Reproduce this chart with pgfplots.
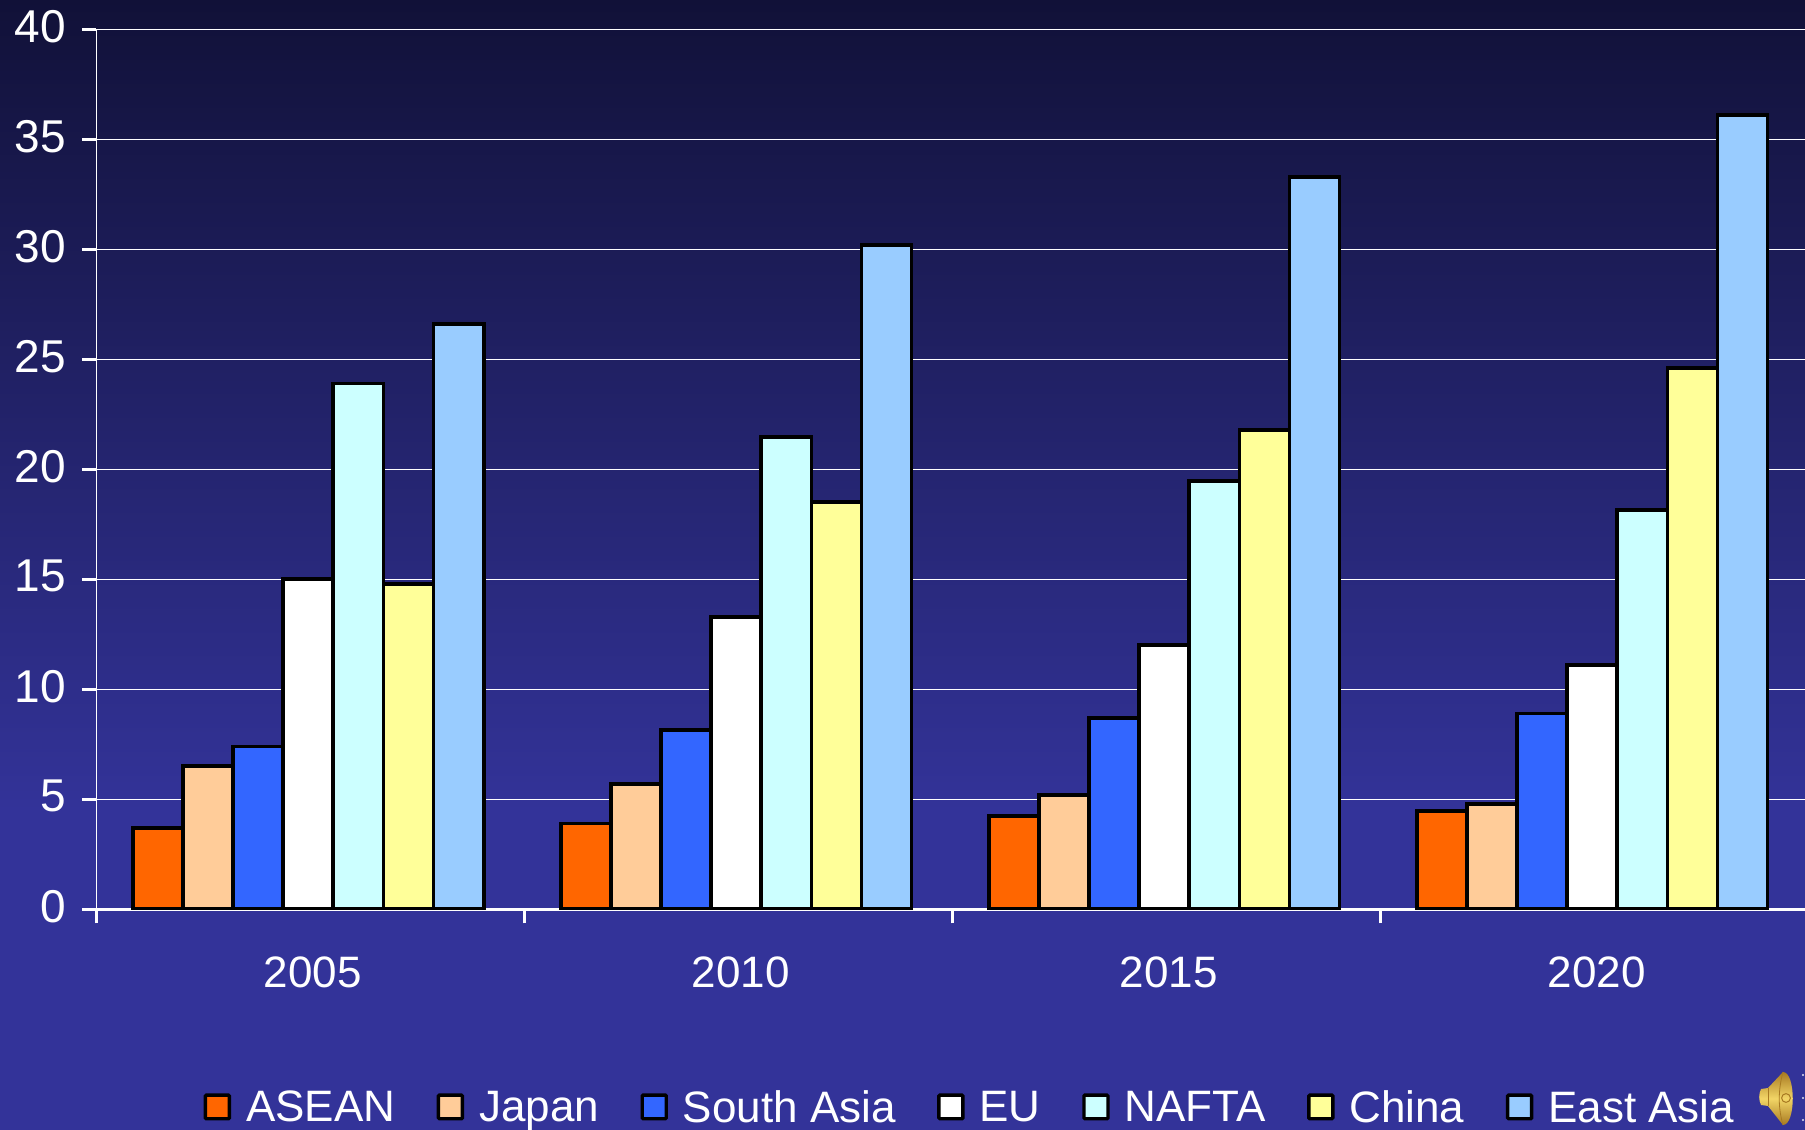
\documentclass[border=0pt]{standalone}
\usepackage{fontspec}
\setmainfont{Liberation Sans}
\usepackage{pgfplots}
\pgfplotsset{compat=1.18}
\definecolor{bgtop}{HTML}{111138}
\definecolor{bgbot}{HTML}{333399}
\definecolor{cAsean}{HTML}{FF6600}
\definecolor{cJapan}{HTML}{FFCC99}
\definecolor{cSouth}{HTML}{3366FF}
\definecolor{cNafta}{HTML}{CCFFFF}
\definecolor{cChina}{HTML}{FFFF99}
\definecolor{cEast}{HTML}{99CCFF}
\definecolor{spkA}{HTML}{F2D566}
\definecolor{spkB}{HTML}{A87A22}
\pgfplotsset{
  sbar/.style={ybar,draw=black,line width=1.9pt,bar width=0.117,fill=#1},
}
\begin{document}
\begin{tikzpicture}[x=1pt,y=1pt]
\path[use as bounding box] (0,0) rectangle (902.5,565);
\fill[bgbot] (0,0) rectangle (902.5,160);
\shade[top color=bgtop,bottom color=bgbot] (0,159.5) rectangle (902.5,565);
\begin{axis}[
  at={(48.25pt,110.35pt)},anchor=south west,
  scale only axis,width=854.25pt,height=440pt,
  xmin=0,xmax=3.992,ymin=0,ymax=40,
  axis lines=left,axis line style={-,white},
  x axis line style={line width=1.75pt},
  y axis line style={line width=0.5pt},
  ytick={0,5,...,40},
  xtick={0,1,2,3},xticklabels={},
  extra x ticks={0.505,1.505,2.505,3.505},
  extra x tick labels={2005,2010,2015,2020},
  extra x tick style={major tick length=0pt,xticklabel style={yshift=-20pt}},
  ymajorgrids,grid style={white,line width=0.6pt},
  major tick length=7pt,
  tick style={white,line width=1.75pt},
  tick align=outside,
  tick label style={white,font=\fontsize{22}{26}\selectfont},
  /pgf/number format/assume math mode=true,
  yticklabel style={xshift=-4.7pt,yshift=1.5pt,font=\fontsize{23}{26}\selectfont},
  legend columns=7,
  legend style={at={(axis description cs:0.0625,-0.2255)},anchor=west,
    draw=none,fill=none,inner sep=0pt,text=white,
    font=\fontsize{22}{26}\selectfont,
    nodes={inner sep=0pt},
    /tikz/every odd column/.style={column sep=7.5pt},
    /tikz/every even column/.style={column sep=20.75pt}},
  legend image code/.code={\draw[#1,line width=1.7pt,rounded corners=0.5pt]
    (0pt,-5.5pt) rectangle (12pt,6.3pt);},
]
\addplot[sbar=cAsean,bar shift=-0.351] coordinates {(0.495,3.7) (1.495,3.9) (2.495,4.25) (3.495,4.45)};
\addlegendentry{ASEAN}
\addplot[sbar=cJapan,bar shift=-0.234] coordinates {(0.495,6.5) (1.495,5.7) (2.495,5.2) (3.495,4.8)};
\addlegendentry{Japan}
\addplot[sbar=cSouth,bar shift=-0.117] coordinates {(0.495,7.4) (1.495,8.15) (2.495,8.7) (3.495,8.9)};
\addlegendentry{South Asia}
\addplot[sbar=white,bar shift=0] coordinates {(0.495,15.0) (1.495,13.3) (2.495,12.0) (3.495,11.1)};
\addlegendentry{EU}
\addplot[sbar=cNafta,bar shift=0.117] coordinates {(0.495,23.9) (1.495,21.45) (2.495,19.45) (3.495,18.15)};
\addlegendentry{NAFTA}
\addplot[sbar=cChina,bar shift=0.234] coordinates {(0.495,14.8) (1.495,18.5) (2.495,21.8) (3.495,24.6)};
\addlegendentry{China}
\addplot[sbar=cEast,bar shift=0.351] coordinates {(0.495,26.6) (1.495,30.2) (2.495,33.3) (3.495,36.1)};
\addlegendentry{East Asia}
\end{axis}
% speaker icon, bottom right corner
\shade[top color=spkB,bottom color=spkB,middle color=spkA]
  (880.5,12.5) .. controls (879.3,15) and (879.3,18) .. (880.5,20.5)
  -- (884,21) -- (891.5,29) .. controls (898,29) and (898,2.5) .. (891.5,2.5)
  -- (884,12) -- cycle;
\draw[spkB,line width=0.5pt] (884,12) -- (884,21);
\draw[spkB,line width=0.4pt] (891.5,29) .. controls (889,20) and (889,11) .. (891.5,2.5);
\draw[spkB,line width=0.5pt] (893,16) circle (2.2);
\fill[white!85!bgbot] (901.5,27.5) circle (0.6) (901.5,16) circle (0.6) (901.5,5) circle (0.6);
\end{tikzpicture}
\end{document}
